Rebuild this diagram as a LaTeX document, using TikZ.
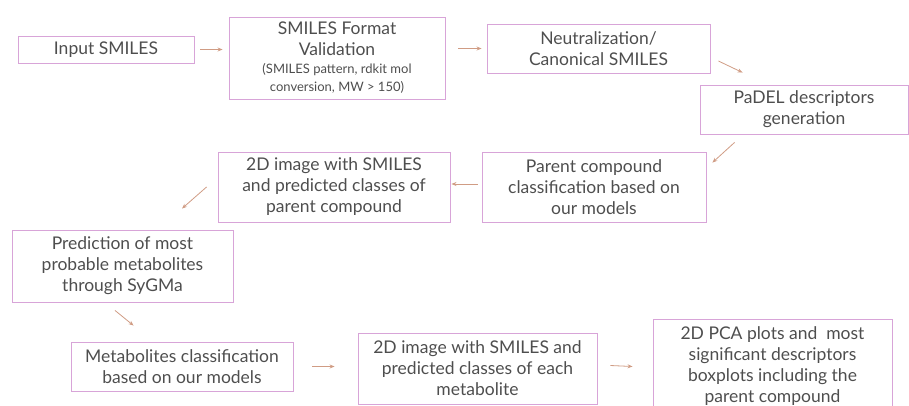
\documentclass[tikz,border=0pt]{standalone}
\usepackage{fontspec}
\setmainfont{Lato}
\usetikzlibrary{arrows.meta}

\definecolor{boxedge}{RGB}{216,164,216}
\definecolor{flowtan}{RGB}{208,156,132}
\definecolor{inkgray}{RGB}{78,78,78}

\newcommand{\smallnote}[1]{{\fontsize{13}{18}\selectfont #1}}

\begin{document}
\begin{tikzpicture}[x=1pt, y=-1pt,
		stage/.style={draw=boxedge, line width=0.9pt, align=center, inner sep=0pt,
			text=inkgray, font=\fontsize{17.5}{21}\selectfont},
		flow/.style={-{Stealth[length=5pt,width=4pt]}, draw=flowtan, line width=0.8pt}]
		\useasboundingbox (0,0) rectangle (909,405);
		\clip (0,0) rectangle (909,405);
		
		% Top row: input and checks
		\node[stage, minimum width=176, minimum height=27] (input) at (106,49.5) {Input SMILES};
		\node[stage, minimum width=216, minimum height=82] (format) at (337,58)
			{SMILES Format\\Validation\\[-3pt]\smallnote{(SMILES pattern, rdkit mol}\\[-3pt]\smallnote{conversion, MW > 150)}};
		\node[stage, minimum width=223, minimum height=49] (neut) at (598.5,48.5) {Neutralization/\\Canonical SMILES};
		\node[stage, minimum width=208, minimum height=49] (padel) at (804,109.5) {PaDEL descriptors\\generation};
		
		% Second row: parent compound
		\node[stage, minimum width=224, minimum height=70] (parent) at (594,187) {Parent compound\\classification based on\\our models};
		\node[stage, minimum width=232, minimum height=70] (imgpar) at (334,187) {2D image with SMILES\\and predicted classes of\\parent compound};
		
		% Metabolites
		\node[stage, minimum width=221, minimum height=72] (sygma) at (122.5,266) {Prediction of most\\probable metabolites\\through SyGMa};
		\node[stage, minimum width=222, minimum height=49] (metab) at (182,366.5) {Metabolites classification\\based on our models};
		\node[stage, minimum width=239, minimum height=71] (imgmet) at (477.5,368.5) {2D image with SMILES and\\predicted classes of each\\metabolite};
		\node[stage, minimum width=239, minimum height=94] (pca) at (772.5,366) {2D PCA plots and\ \ most\\significant descriptors\\boxplots including the\\parent compound};
		
		% Arrows between stages
		\draw[flow] ([xshift=6]input.east) -- ([xshift=-6]input.east -| format.west);
		\draw[flow] ([xshift=13]format.east |- neut.west) -- ([xshift=-5]neut.west);
		\draw[flow] ([shift={(8,12.5)}]neut.east) -- ([shift={(43,-12)}]padel.north west);
		\draw[flow] ([shift={(35,8)}]padel.south west) -- ([shift={(6,11)}]parent.north east);
		\draw[flow] ([shift={(-4,-3)}]parent.west) -- ([shift={(1,-3)}]imgpar.east);
		\draw[flow] ([xshift=-11]imgpar.west) -- ([shift={(59.5,-21)}]sygma.north);
		\draw[flow] ([shift={(-7.5,8)}]sygma.south) -- ([shift={(63,-16)}]metab.north west);
		\draw[flow] ([xshift=19]metab.east) -- ([xshift=-23]metab.east -| imgmet.west);
		\draw[flow] ([shift={(13,-3)}]imgmet.east) -- ([shift={(-20,-2)}]imgmet.east -| pca.west);
		
	\end{tikzpicture}
\end{document}
